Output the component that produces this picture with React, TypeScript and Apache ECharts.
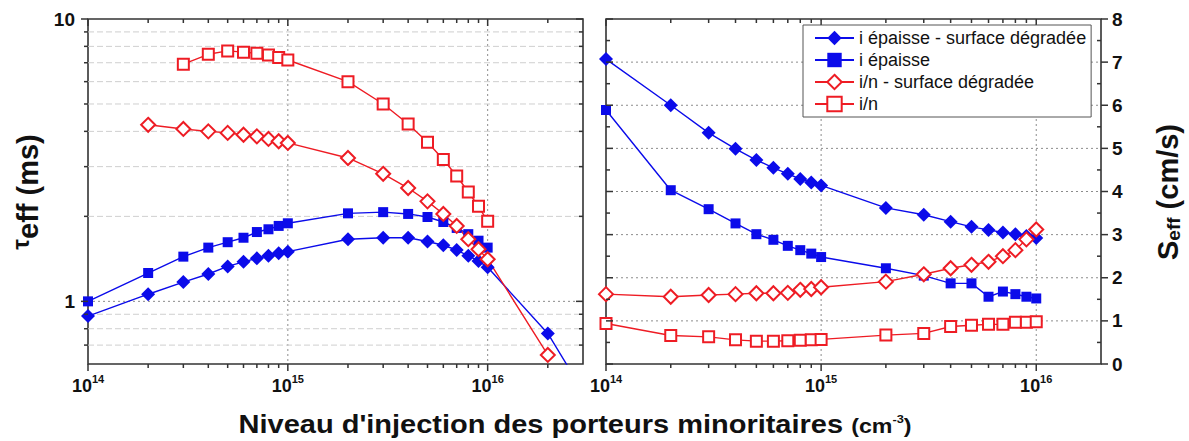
import React, { useEffect, useRef } from 'react';
import * as echarts from 'echarts';

const FONT = '"Liberation Sans", Arial, Helvetica, sans-serif';
const BLUE = '#0b0bea';
const RED = '#ee1c24';

const seriesNames = ['i épaisse - surface dégradée', 'i épaisse', 'i/n - surface dégradée', 'i/n'];

// ---------- Left panel : tau_eff (ms) ----------
const xLeftBlueDiamond = [1e14, 2e14, 3e14, 4e14, 5e14, 6e14, 7e14, 8e14, 9e14, 1e15, 2e15, 3e15, 4e15, 5e15, 6e15, 7e15, 8e15, 9e15, 1e16, 2e16, 3e16];
const tauBlueDiamond = [0.887, 1.06, 1.17, 1.25, 1.33, 1.38, 1.42, 1.45, 1.48, 1.5, 1.66, 1.68, 1.68, 1.63, 1.58, 1.52, 1.45, 1.39, 1.32, 0.77, 0.48];

const xLeftBlueSquare = [1e14, 2e14, 3e14, 4e14, 5e14, 6e14, 7e14, 8e14, 9e14, 1e15, 2e15, 3e15, 4e15, 5e15, 6e15, 7e15, 8e15, 9e15, 1e16];
const tauBlueSquare = [1.0, 1.26, 1.44, 1.55, 1.62, 1.68, 1.76, 1.8, 1.85, 1.89, 2.05, 2.07, 2.04, 1.99, 1.91, 1.82, 1.73, 1.64, 1.55];

const xLeftRedDiamond = [2e14, 3e14, 4e14, 5e14, 6e14, 7e14, 8e14, 9e14, 1e15, 2e15, 3e15, 4e15, 5e15, 6e15, 7e15, 8e15, 9e15, 1e16, 2e16];
const tauRedDiamond = [4.22, 4.08, 4.0, 3.95, 3.89, 3.84, 3.76, 3.69, 3.64, 3.22, 2.83, 2.52, 2.26, 2.04, 1.85, 1.66, 1.53, 1.41, 0.646];

const xLeftRedSquare = [3e14, 4e14, 5e14, 6e14, 7e14, 8e14, 9e14, 1e15, 2e15, 3e15, 4e15, 5e15, 6e15, 7e15, 8e15, 9e15, 1e16];
const tauRedSquare = [6.92, 7.5, 7.71, 7.63, 7.56, 7.46, 7.3, 7.16, 6.0, 5.0, 4.25, 3.66, 3.18, 2.78, 2.44, 2.17, 1.92];

// ---------- Right panel : S_eff (cm/s) ----------
const xRight = [1e14, 2e14, 3e14, 4e14, 5e14, 6e14, 7e14, 8e14, 9e14, 1e15, 2e15, 3e15, 4e15, 5e15, 6e15, 7e15, 8e15, 9e15, 1e16];
const sBlueDiamond = [7.07, 6.0, 5.36, 4.99, 4.73, 4.55, 4.41, 4.29, 4.21, 4.14, 3.62, 3.46, 3.3, 3.18, 3.11, 3.05, 3.01, 2.97, 2.92];
const sBlueSquare = [5.89, 4.03, 3.59, 3.26, 3.01, 2.88, 2.74, 2.64, 2.56, 2.48, 2.22, 2.05, 1.87, 1.87, 1.56, 1.68, 1.62, 1.56, 1.52];
const sRedDiamond = [1.62, 1.56, 1.6, 1.62, 1.64, 1.64, 1.65, 1.72, 1.74, 1.78, 1.91, 2.08, 2.22, 2.3, 2.37, 2.5, 2.64, 2.89, 3.12];
const sRedSquare = [0.94, 0.66, 0.63, 0.56, 0.53, 0.53, 0.54, 0.55, 0.56, 0.57, 0.67, 0.71, 0.87, 0.9, 0.92, 0.92, 0.97, 0.97, 0.98];

// ---------- Ticks / grid lines ----------
const xMajorTicks = [1e14, 1e15, 1e16];
const xMinorLeft = [2e14, 3e14, 4e14, 5e14, 6e14, 7e14, 8e14, 9e14, 2e15, 3e15, 4e15, 5e15, 6e15, 7e15, 8e15, 9e15, 2e16];
const xMinorRight = [2e14, 3e14, 4e14, 5e14, 6e14, 7e14, 8e14, 9e14, 2e15, 3e15, 4e15, 5e15, 6e15, 7e15, 8e15, 9e15];
const xGridLines = [1e15, 1e16];
const yMajorLeft = [1, 10];
const yMinorLeft = [0.7, 0.8, 0.9, 2, 3, 4, 5, 6, 7, 8, 9];
const yGridLeft = [1];
const yMajorRight = [0, 1, 2, 3, 4, 5, 6, 7, 8];
const yMinorRight = [0.5, 1.5, 2.5, 3.5, 4.5, 5.5, 6.5, 7.5];
const yGridRight = [1, 2, 3, 4, 5, 6, 7];

type Mark = {
  kind: 'v' | 'h' | 'xt' | 'yt';
  xv: number;
  yv: number;
  len?: number;
  dash?: 'dot' | 'dash';
  lDir?: number;
  rDir?: number;
};

function decorSeries(gi: number, marks: Mark[], z: number) {
  return {
    type: 'custom',
    xAxisIndex: gi,
    yAxisIndex: gi,
    silent: true,
    z,
    data: marks.map((m) => [m.xv, m.yv]),
    renderItem: (params: any, api: any) => {
      const m = marks[params.dataIndex];
      const cs = params.coordSys;
      const left = cs.x, right = cs.x + cs.width, top = cs.y, bottom = cs.y + cs.height;
      const p = api.coord([api.value(0), api.value(1)]);
      const tick = { stroke: '#333', lineWidth: 1.5 };
      const dot = { stroke: '#8c8c8c', lineWidth: 1, lineDash: [2, 3] };
      const dash = { stroke: '#cfcfcf', lineWidth: 1, lineDash: [6, 3] };
      if (m.kind === 'v') {
        return { type: 'line', shape: { x1: p[0], y1: top, x2: p[0], y2: bottom }, style: m.dash === 'dash' ? dash : dot };
      }
      if (m.kind === 'h') {
        return { type: 'line', shape: { x1: left, y1: p[1], x2: right, y2: p[1] }, style: m.dash === 'dash' ? dash : dot };
      }
      const L = m.len || 4;
      if (m.kind === 'xt') {
        return {
          type: 'group',
          children: [
            { type: 'line', shape: { x1: p[0], y1: bottom, x2: p[0], y2: bottom + L }, style: tick },
            { type: 'line', shape: { x1: p[0], y1: top, x2: p[0], y2: top + L }, style: tick },
          ],
        };
      }
      return {
        type: 'group',
        children: [
          { type: 'line', shape: { x1: left, y1: p[1], x2: left + (m.lDir || -1) * L, y2: p[1] }, style: tick },
          { type: 'line', shape: { x1: right, y1: p[1], x2: right + (m.rDir || -1) * L, y2: p[1] }, style: tick },
        ],
      };
    },
  };
}

function lineSeries(name: string, xs: number[], ys: number[], gi: number, shape: 'diamond' | 'rect', color: string, filled: boolean) {
  return {
    type: 'line',
    name,
    xAxisIndex: gi,
    yAxisIndex: gi,
    data: xs.map((x, i) => [x, ys[i]]),
    symbol: shape,
    symbolSize: shape === 'diamond' ? 14 : filled ? 10 : 11,
    showAllSymbol: true,
    clip: true,
    z: 3,
    lineStyle: { color, width: 1.4 },
    itemStyle: filled ? { color, borderWidth: 0 } : { color: '#ffffff', borderColor: color, borderWidth: 2 },
    emphasis: { disabled: true },
  };
}

const isPow10 = (v: number) => Math.abs(Math.log10(v) - Math.round(Math.log10(v))) < 1e-6;

const xLabel = {
  margin: 9,
  formatter: (v: number) => (isPow10(v) ? `{b|10}{s|${Math.round(Math.log10(v))}}` : ''),
  rich: {
    b: { fontSize: 18, fontWeight: 'bold', color: '#111', fontFamily: FONT, lineHeight: 22, verticalAlign: 'bottom' },
    s: { fontSize: 11, fontWeight: 'bold', color: '#111', fontFamily: FONT, lineHeight: 10, verticalAlign: 'top' },
  },
};

function buildOption() {
  const marks0: Mark[] = [
    ...xGridLines.map((v) => ({ kind: 'v' as const, xv: v, yv: 1, dash: 'dot' as const })),
    ...yGridLeft.map((v) => ({ kind: 'h' as const, xv: 1e15, yv: v, dash: 'dot' as const })),
    ...yMinorLeft.map((v) => ({ kind: 'h' as const, xv: 1e15, yv: v, dash: 'dash' as const })),
  ];
  const ticks0: Mark[] = [
    ...xMajorTicks.map((v) => ({ kind: 'xt' as const, xv: v, yv: 1, len: 7 })),
    ...xMinorLeft.map((v) => ({ kind: 'xt' as const, xv: v, yv: 1, len: 4 })),
    ...yMajorLeft.map((v) => ({ kind: 'yt' as const, xv: 1e15, yv: v, len: 7, lDir: -1, rDir: -1 })),
    ...yMinorLeft.map((v) => ({ kind: 'yt' as const, xv: 1e15, yv: v, len: 4, lDir: -1, rDir: -1 })),
  ];
  const marks1: Mark[] = [
    ...xGridLines.map((v) => ({ kind: 'v' as const, xv: v, yv: 1, dash: 'dot' as const })),
    ...yGridRight.map((v) => ({ kind: 'h' as const, xv: 1e15, yv: v, dash: 'dot' as const })),
  ];
  const ticks1: Mark[] = [
    ...xMajorTicks.map((v) => ({ kind: 'xt' as const, xv: v, yv: 1, len: 7 })),
    ...xMinorRight.map((v) => ({ kind: 'xt' as const, xv: v, yv: 1, len: 4 })),
    ...yMajorRight.map((v) => ({ kind: 'yt' as const, xv: 1e15, yv: v, len: 7, lDir: 1, rDir: 1 })),
    ...yMinorRight.map((v) => ({ kind: 'yt' as const, xv: 1e15, yv: v, len: 4, lDir: 1, rDir: -1 })),
  ];

  return {
    animation: false,
    backgroundColor: '#ffffff',
    textStyle: { fontFamily: FONT },
    grid: [
      { left: 88, top: 19, width: 495, height: 345, show: true, borderColor: '#333', borderWidth: 1.6, backgroundColor: 'transparent' },
      { left: 606, top: 19, width: 495, height: 345, show: true, borderColor: '#333', borderWidth: 1.6, backgroundColor: 'transparent' },
    ],
    xAxis: [
      { type: 'log', logBase: 10, gridIndex: 0, min: 1e14, max: 3e16, axisLine: { show: false }, axisTick: { show: false }, splitLine: { show: false }, axisLabel: xLabel },
      { type: 'log', logBase: 10, gridIndex: 1, min: 1e14, max: 2e16, axisLine: { show: false }, axisTick: { show: false }, splitLine: { show: false }, axisLabel: xLabel },
    ],
    yAxis: [
      {
        type: 'log', logBase: 10, gridIndex: 0, min: 0.6, max: 10,
        axisLine: { show: false }, axisTick: { show: false }, splitLine: { show: false },
        axisLabel: {
          margin: 13, fontSize: 19, fontWeight: 'bold', color: '#111', fontFamily: FONT,
          formatter: (v: number) => (isPow10(v) ? String(Math.round(v)) : ''),
        },
      },
      {
        type: 'value', gridIndex: 1, position: 'right', min: 0, max: 8, interval: 1,
        axisLine: { show: false }, axisTick: { show: false }, splitLine: { show: false },
        axisLabel: { margin: 11, fontSize: 19, fontWeight: 'bold', color: '#111', fontFamily: FONT },
      },
    ],
    legend: {
      show: true,
      orient: 'vertical',
      left: 803,
      top: 25,
      data: seriesNames,
      itemWidth: 39,
      itemHeight: 18,
      itemGap: 2,
      itemTextGap: 5,
      padding: [3, 5, 3, 11],
      borderColor: '#555',
      borderWidth: 1,
      borderRadius: 0,
      backgroundColor: '#ffffff',
      selectedMode: false,
      textStyle: { fontSize: 18, color: '#111', fontFamily: FONT, lineHeight: 20 },
      z: 10,
    },
    graphic: [
      {
        type: 'text',
        x: 575,
        y: 424,
        scaleX: 1.16,
        style: {
          text: "{a|Niveau d'injection des porteurs minoritaires }{b|(cm}{c|-3}{b|)}",
          align: 'center',
          verticalAlign: 'middle',
          rich: {
            a: { fontSize: 25, fontWeight: 'bold', fill: '#111', fontFamily: FONT, verticalAlign: 'bottom' },
            b: { fontSize: 20, fontWeight: 'bold', fill: '#111', fontFamily: FONT, verticalAlign: 'bottom' },
            c: { fontSize: 11, fontWeight: 'bold', fill: '#111', fontFamily: FONT, verticalAlign: 'top', padding: [2, 0, 0, 0] },
          },
        },
      },
      {
        type: 'text',
        x: 25,
        y: 192,
        rotation: Math.PI / 2,
        style: {
          text: '{t|τ}{e|eff}{e| (ms)}',
          align: 'center',
          verticalAlign: 'middle',
          rich: {
            t: { fontSize: 24, fontWeight: 'bold', fill: '#111', fontFamily: FONT, lineHeight: 30, verticalAlign: 'top' },
            e: { fontSize: 29, fontWeight: 'bold', fill: '#111', fontFamily: FONT, lineHeight: 34, verticalAlign: 'bottom' },
          },
        },
      },
      {
        type: 'text',
        x: 1168,
        y: 192,
        rotation: Math.PI / 2,
        style: {
          text: '{m|S}{s|eff}{m| (cm/s)}',
          align: 'center',
          verticalAlign: 'middle',
          rich: {
            m: { fontSize: 29, fontWeight: 'bold', fill: '#111', fontFamily: FONT, verticalAlign: 'bottom' },
            s: { fontSize: 19, fontWeight: 'bold', fill: '#111', fontFamily: FONT, verticalAlign: 'bottom' },
          },
        },
      },
    ],
    series: [
      decorSeries(0, marks0, 1),
      decorSeries(1, marks1, 1),
      lineSeries(seriesNames[0], xLeftBlueDiamond, tauBlueDiamond, 0, 'diamond', BLUE, true),
      lineSeries(seriesNames[1], xLeftBlueSquare, tauBlueSquare, 0, 'rect', BLUE, true),
      lineSeries(seriesNames[2], xLeftRedDiamond, tauRedDiamond, 0, 'diamond', RED, false),
      lineSeries(seriesNames[3], xLeftRedSquare, tauRedSquare, 0, 'rect', RED, false),
      lineSeries(seriesNames[0], xRight, sBlueDiamond, 1, 'diamond', BLUE, true),
      lineSeries(seriesNames[1], xRight, sBlueSquare, 1, 'rect', BLUE, true),
      lineSeries(seriesNames[2], xRight, sRedDiamond, 1, 'diamond', RED, false),
      lineSeries(seriesNames[3], xRight, sRedSquare, 1, 'rect', RED, false),
      decorSeries(0, ticks0, 6),
      decorSeries(1, ticks1, 6),
    ],
  };
}

export default function App() {
  const ref = useRef<HTMLDivElement>(null);
  useEffect(() => {
    if (!ref.current) return;
    const chart = echarts.init(ref.current, null, { renderer: 'svg' });
    chart.setOption(buildOption() as any);
    return () => chart.dispose();
  }, []);
  return (
    <div
      ref={ref}
      style={{ position: 'fixed', left: 0, top: 0, width: 1189, height: 441, background: '#ffffff' }}
    />
  );
}
